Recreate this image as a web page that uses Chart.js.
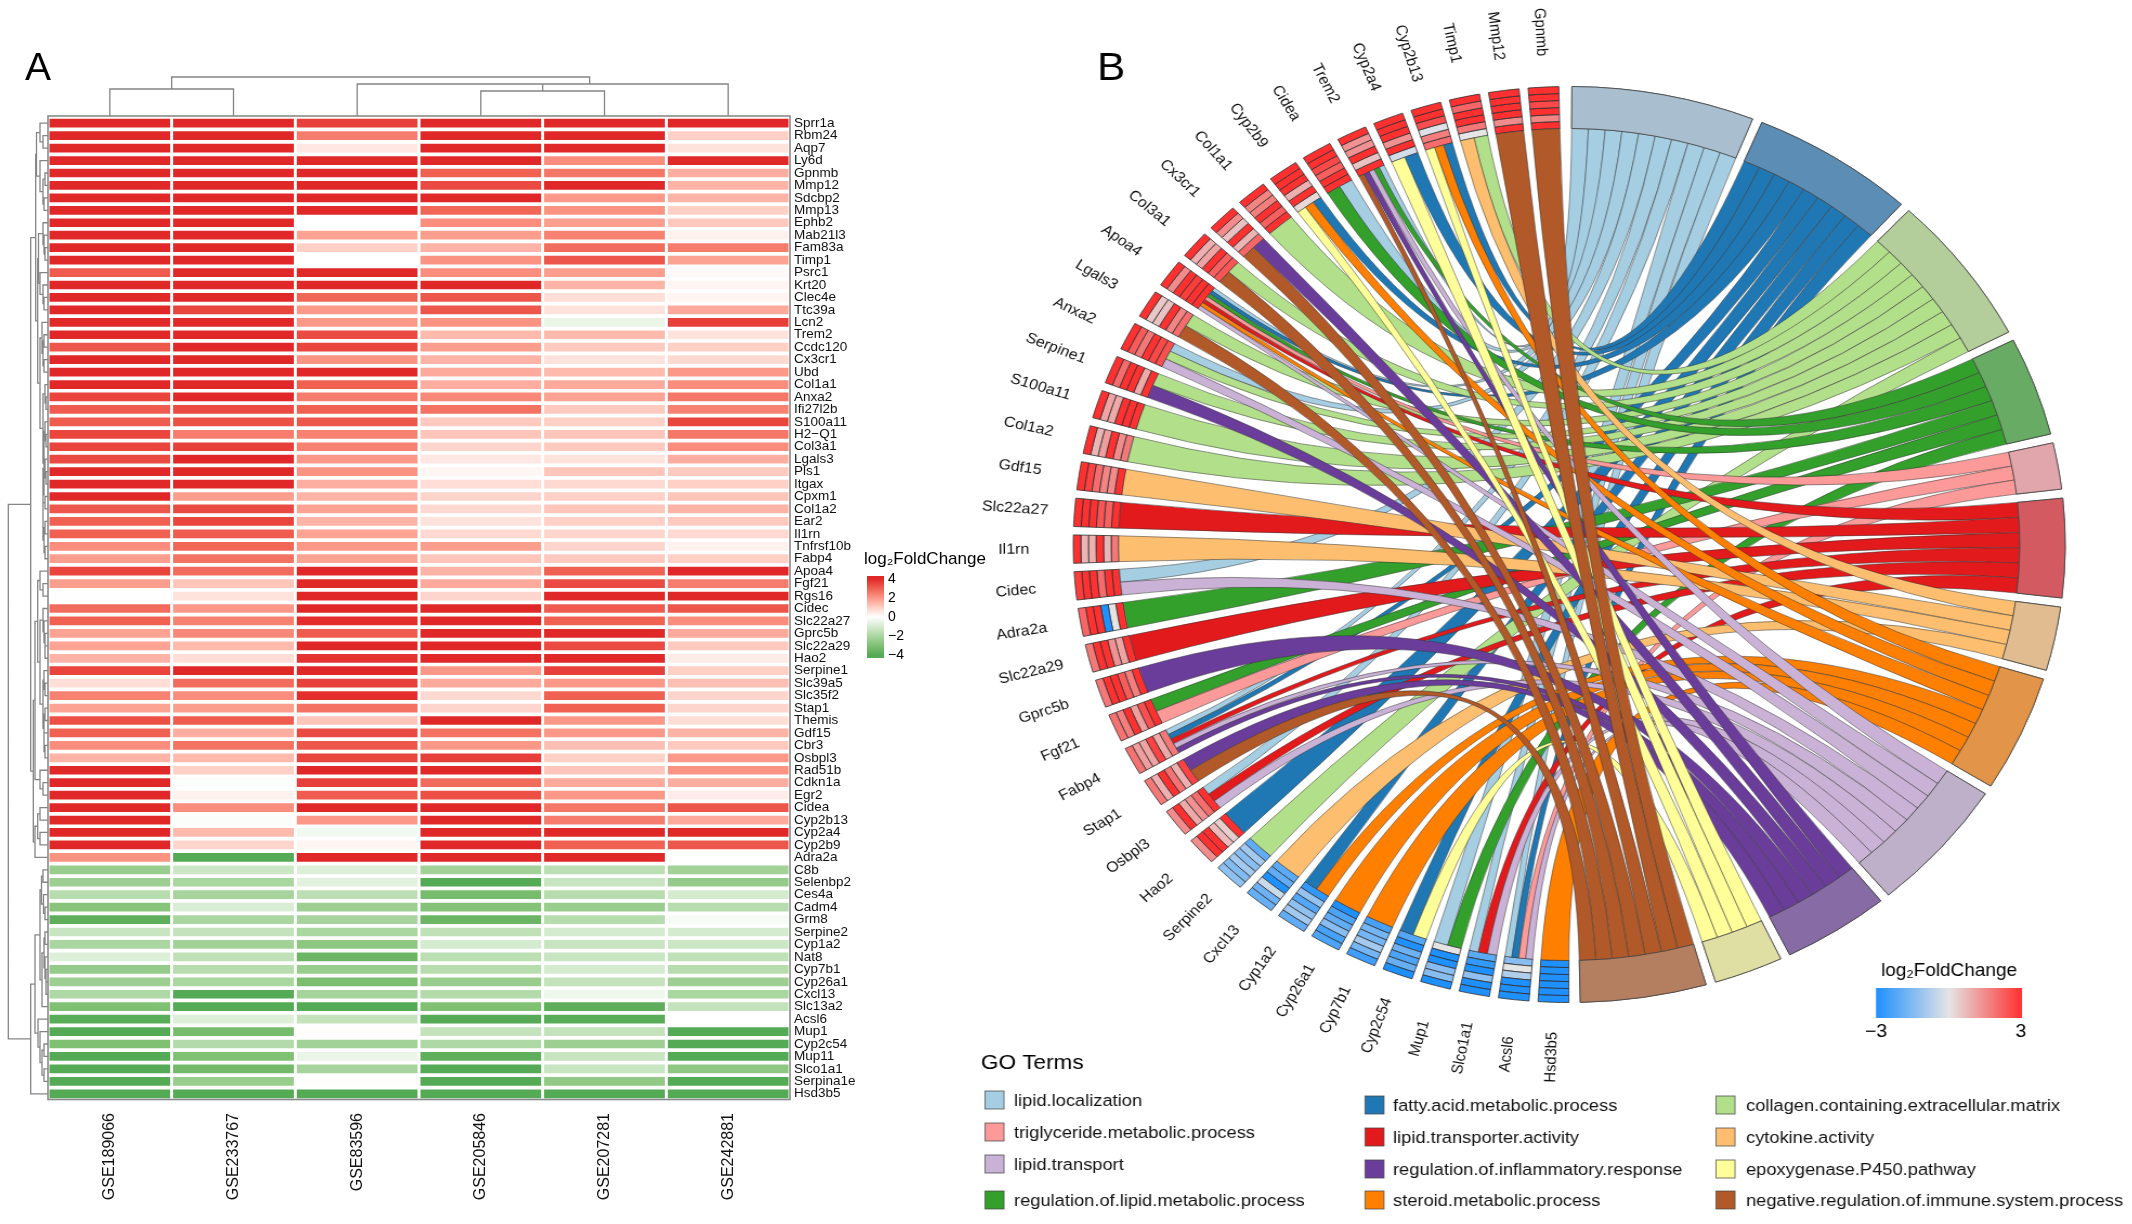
<!DOCTYPE html>
<html><head><meta charset="utf-8">
<script src="https://cdn.jsdelivr.net/npm/chart.js@4"></script>
<style>
html,body{margin:0;padding:0;background:#fff;width:2132px;height:1224px;overflow:hidden}
canvas{position:absolute;left:0;top:0}
#g,#t{transform:scaleX(1.083);transform-origin:0 0}
</style></head><body>
<canvas id="h" width="1000" height="1224"></canvas>
<canvas id="g" width="1969" height="1224"></canvas>
<canvas id="t" width="1969" height="1224"></canvas>
<script>
const datasetsGSE=['GSE189066','GSE233767','GSE83596','GSE205846','GSE207281','GSE242881'];
const heatGenes=['Sprr1a','Rbm24','Aqp7','Ly6d','Gpnmb','Mmp12','Sdcbp2','Mmp13','Ephb2','Mab21l3','Fam83a','Timp1','Psrc1','Krt20','Clec4e','Ttc39a','Lcn2','Trem2','Ccdc120','Cx3cr1','Ubd','Col1a1','Anxa2','Ifi27l2b','S100a11','H2−Q1','Col3a1','Lgals3','Pls1','Itgax','Cpxm1','Col1a2','Ear2','Il1rn','Tnfrsf10b','Fabp4','Apoa4','Fgf21','Rgs16','Cidec','Slc22a27','Gprc5b','Slc22a29','Hao2','Serpine1','Slc39a5','Slc35f2','Stap1','Themis','Gdf15','Cbr3','Osbpl3','Rad51b','Cdkn1a','Egr2','Cidea','Cyp2b13','Cyp2a4','Cyp2b9','Adra2a','C8b','Selenbp2','Ces4a','Cadm4','Grm8','Serpine2','Cyp1a2','Nat8','Cyp7b1','Cyp26a1','Cxcl13','Slc13a2','Acsl6','Mup1','Cyp2c54','Mup11','Slco1a1','Serpina1e','Hsd3b5'];
const GSE189066=[4,4,4,4,4,4,4,4,4,4,4,4,3.1,4,4,4,4,4,3.2,4,4,4,3.5,3.1,3.1,3.5,3.5,3.4,4,4,4,3.2,3,3,2.2,1.9,3.5,1.9,-.05,2.8,3,1.8,1.8,1.5,3.5,.7,2.4,1.8,3.3,3,2.2,1.5,4,4,4,4,4,4,4,2.1,-2.4,-2.3,-1.7,-2.8,-3.8,-1.3,-2,-.8,-2.5,-2.3,-1.9,-3,-3.9,-4,-3,-4,-4,-4,-4];
const GSE233767=[4,4,4,4,4,4,4,4,4,4,4,4,4,4,4,3.5,4,4,4,4,4,4,4,3.4,3.3,2.5,3.6,4,4,4,1.9,3.4,3.5,3.1,2.9,2.7,2.8,1.2,.6,2,2.4,2.3,1.4,.7,4,2.8,2.2,1.9,3.1,1.6,2.7,1.4,1,-.1,.3,2.2,-.1,1.4,.9,-4,-1.2,-2,-2.1,-.9,-2,-1.4,-2.2,-1.5,-1.7,-2,-4,-4,-.8,-3.2,-1.8,-3,-3.3,-2.4,-4];
const GSE83596=[3.6,2.5,.5,4,4,4,4,4,0,1.8,1,0,4,4,2.9,2,2,3.4,3.5,2.1,4,3,2.5,3,3.2,2.4,2.4,2,2.1,1.6,1.5,1.8,1.5,1.8,2,1.8,4,4,4,4,3.9,3.1,4,3.8,4,3.6,3.9,2.7,1.2,3.4,3.2,3.5,4,3.6,3.1,4,2,-.3,.2,4,-.8,-.7,-1.6,-2.3,-2.1,-2,-2.7,-3.5,-2.4,-3.1,-2.1,-4,-1.4,.03,-2.2,-.5,-2.1,.03,-4];
const GSE205846=[4,4,4,4,3,3.4,4,2.9,2.2,1.9,1.5,2.1,2.2,4,3.2,3.2,2.1,1.4,1.9,1.5,1.7,1.6,2.3,2.7,1.1,1.2,.9,.5,.2,.7,.9,.8,.6,.8,1.9,1.2,1.5,1.7,.9,4,4,4,4,4,2,1.7,.8,.9,4,2.7,2,3.6,4,2.8,3.3,4,4,4,4,4,-2.2,-4,-3.2,-2.9,-3.5,-1.5,-1,-1.6,-1.7,-2.4,-1.8,-3,-4,-1.4,-1.9,-3.8,-4,-4,-4];
const GSE207281=[4,4,4,2.2,2.6,4,2,2.1,1.9,2.4,2.8,3.2,1.9,1.5,.7,.6,-.5,1.4,1.1,.6,1.4,1.7,1.8,1.1,1,1.2,1.1,.6,1.2,.8,1,1.2,1,.9,.9,1.1,3,3.4,4,3.1,3,4,3.4,4,3.6,2,3,3,2,2,1.3,1,1.2,1.7,2,2.6,2.5,4,3,4,-1.6,-1.3,-1.7,-2.4,-1.7,-1,-1.3,-1.3,-1,-1.4,-.4,-3.8,-3.9,-1.4,-2.3,-1.3,-1.3,-2.6,-4];
const GSE242881=[4,1,.6,4,1.6,1.5,1.5,1,1.1,.3,2.5,1.8,.1,.2,.2,1.7,3.6,.6,1,.8,2,2.2,2.6,2.4,3.5,2.6,2.2,1.6,1.1,1,1.2,1.5,1.1,.8,.3,1,4,2.5,4,3.2,2.2,1.7,1.1,.4,1,1.3,.9,.9,.7,1.5,1.1,2,2.1,1.6,.4,3.2,1.7,4,3.2,0,-2.2,-2.5,-1,-1.7,-.2,-1,-1.2,-1.5,-1.7,-2.3,-2,-1.4,0,-4,-4,-4,-2.7,-4,-4];
const heatColumns=[GSE189066,GSE233767,GSE83596,GSE205846,GSE207281,GSE242881];
const heatLegendTicks=[4,2,0,-2,-4];

const A1=[36.5,[40,0,[43,1,2]],[40,3,[43,[45,4,5],[44,6,7]]]];
const A2=[37.7,[38.5,[43,8,[44,9,[45,10,11]]],[40,12,[43,13,[44,14,15]]]],[40,[42,16,[43,[44,17,18],[44,19,20]]],[43,[45,21,[46,22,23]],[44,[45,24,[46,25,26]],[43,[45,27,[46,28,29]],[43,[45,30,31],[44,[45,32,33],[45,34,35]]]]]]]];
const B1=[35,[37.7,[40,36,[43,37,38]],[40,[43,39,[44,40,[45,41,[45,42,43]]]],[43,[44,44,[45,45,46]],[44,[45,47,48],[44,49,[45,50,51]]]]]],[40,52,[43,53,54]]];
const B2=[35,[37.7,[40,55,56],[40,57,58]],59];
const GREEN=[30.7,[35,[40,[41.5,[43,60,61],[43.5,62,[45,63,64]]],[42,[44,[45,65,66],[45,67,[46,68,[46,69,70]]]],71]],[38,72,[40,73,[42,[44,74,75],[44,76,77]]]]],78];
const rowTree=[8.3,[30.7,[35.7,A1,A2],[33.3,B1,B2]],GREEN];
const colBrackets=[[89,0,1,116,116],[91,3,4,116,116],[84,2,5,116,116],[77,.5,3.88,89,84]];

const goTerms=['lipid.localization','fatty.acid.metabolic.process','collagen.containing.extracellular.matrix','regulation.of.lipid.metabolic.process','triglyceride.metabolic.process','lipid.transporter.activity','cytokine.activity','steroid.metabolic.process','lipid.transport','regulation.of.inflammatory.response','epoxygenase.P450.pathway','negative.regulation.of.immune.system.process'];
const termColors=['#A6CEE3','#1F78B4','#B2DF8A','#33A02C','#FB9A99','#E31A1C','#FDBF6F','#FF7F00','#CAB2D6','#6A3D9A','#FFFF99','#B15928'];
const termRingColors=['#A9BFCF','#5C8DB4','#B3CE9B','#68AB64','#E0A6AB','#D25A60','#E0BC90','#E29448','#BDB0C8','#876BA5','#DFDFA4','#B47F60'];
const chordGenes=['Hsd3b5','Acsl6','Slco1a1','Mup1','Cyp2c54','Cyp7b1','Cyp26a1','Cyp1a2','Cxcl13','Serpine2','Hao2','Osbpl3','Stap1','Fabp4','Fgf21','Gprc5b','Slc22a29','Adra2a','Cidec','Il1rn','Slc22a27','Gdf15','Col1a2','S100a11','Serpine1','Anxa2','Lgals3','Apoa4','Col3a1','Cx3cr1','Col1a1','Cyp2b9','Cidea','Trem2','Cyp2a4','Cyp2b13','Timp1','Mmp12','Gpnmb'];
const geneTerms=[[7],[8,4,1,0],[8,5,0],[3,0],[10,1],[7],[7],[7,1],[6],[2],[1],[8,5,0],[11,9],[8,9,5,1,0],[4,3],[9],[5],[3],[8,0],[6],[5],[6],[2],[2],[9,2],[8,2,0],[11,2],[8,7,5,4,3,1,0],[11,2],[11,9],[2],[10,7,1],[3,0],[11,9,8,3,0],[10,1],[10,7,1],[6,2],[11],[11]];
const ringOrder=[0,3,4,1,5,2];

const F='"Liberation Sans", Arial, sans-serif';
const redStops=[[255,255,255],[254,208,198],[252,152,136],[240,97,82],[225,40,40]];
const greenStops=[[255,255,255],[213,235,208],[170,214,160],[128,192,115],[85,170,85]];
function heatColor(v){
  const a=Math.min(4,Math.abs(v)),s=v>=0?redStops:greenStops,i=Math.min(3,Math.floor(a)),f=a-i;
  const c=[0,1,2].map(k=>Math.round(s[i][k]+(s[i+1][k]-s[i][k])*f));
  return `rgb(${c})`;
}
function fcColor(v){
  const a=Math.max(-3,Math.min(3,v))/3,m=[229,229,229],e=a<0?[30,144,255]:[255,48,48],f=Math.abs(a);
  return `rgb(${m.map((x,k)=>Math.round(x+(e[k]-x)*f))})`;
}
const base={responsive:false,animation:false,events:[]};

/* ---------- A: heat map ---------- */
const heatPlugin={id:'heatExtras',
  afterDraw(c){
    const x=c.ctx,s=c.chartArea,ys=c.scales.y,xs=c.scales.x;
    x.save();
    x.strokeStyle='#8a8a8a';x.lineWidth=1.6;x.strokeRect(s.left,116,s.right-s.left,983.5);
    x.lineWidth=1.3;x.strokeStyle='#858585';
    x.beginPath();
    const walk=n=>{
      if(typeof n==='number')return{x:s.left,y:ys.getPixelForValue(n+.5)};
      const a=walk(n[1]),b=walk(n[2]);
      x.moveTo(a.x,a.y);x.lineTo(n[0],a.y);x.lineTo(n[0],b.y);x.lineTo(b.x,b.y);
      return{x:n[0],y:(a.y+b.y)/2};
    };
    walk(rowTree);
    const colX=v=>{const f=Math.floor(v),p0=xs.getPixelForValue(f),p1=xs.getPixelForValue(Math.min(5,f+1));return p0+(p1-p0)*(v-f);};
    colBrackets.forEach(b=>{x.moveTo(colX(b[1]),b[3]);x.lineTo(colX(b[1]),b[0]);x.lineTo(colX(b[2]),b[0]);x.lineTo(colX(b[2]),b[4]);});
    x.moveTo(colX(3.5),84);x.lineTo(colX(3.5),91);
    x.stroke();
    x.fillStyle='#000';x.textBaseline='alphabetic';x.textAlign='left';
    x.font='39px '+F;x.fillText('A',25,80);
    x.font='17px '+F;x.fillText('log₂FoldChange',864,564);
    const top=576,bot=658,gr=x.createLinearGradient(0,top,0,bot);
    for(let v=4;v>=-4;v-=.5){gr.addColorStop(Math.min(1,Math.max(0,(579+(4-v)*9.5-top)/(bot-top))),heatColor(v));}
    x.fillStyle=gr;x.fillRect(867,top,17,bot-top);
    x.fillStyle='#000';x.font='14px '+F;x.textBaseline='middle';
    heatLegendTicks.forEach(v=>x.fillText(String(v).replace('-','−'),888,579+(4-v)*9.5));
    x.restore();
  }};
new Chart(document.getElementById('h'),{type:'bar',
  data:{labels:datasetsGSE,datasets:heatGenes.map((g,i)=>({label:g,
    data:heatColumns.map(()=>[i+.15,i+.85]),
    backgroundColor:heatColumns.map(col=>heatColor(col[i]))}))},
  options:{...base,layout:{padding:{left:48,top:117,right:0,bottom:0}},
    datasets:{bar:{grouped:false,barPercentage:.976,categoryPercentage:1,borderWidth:0}},
    plugins:{legend:{display:false},tooltip:{enabled:false}},
    scales:{
      x:{position:'bottom',grid:{display:false,drawTicks:false},border:{display:false},
        afterFit(a){a.height=124},
        ticks:{minRotation:90,maxRotation:90,padding:13,color:'#111',font:{family:F,size:16}}},
      y:{position:'right',reverse:true,min:0,max:79,grid:{display:false,drawTicks:false},border:{display:false},
        afterFit(a){a.width=210},
        afterBuildTicks(a){a.ticks=heatGenes.map((_,i)=>({value:i+.5}))},
        ticks:{autoSkip:false,padding:4,color:'#111',font:{family:F,size:13.5},callback:v=>heatGenes[Math.round(v-.5)]}}
    }},plugins:[heatPlugin]});

/* ---------- B: chord ---------- */
const STRETCH=1.083,X=v=>v/STRETCH;
const termCounts=goTerms.map((_,t)=>geneTerms.filter(l=>l.includes(t)).length);
const termGap=1.15,geneDeg=3.56,geneGap=1.05;
const chordOpts={...base,radius:458,cutout:'90.83%',layout:{padding:{left:929,bottom:135}},plugins:{legend:{display:false},tooltip:{enabled:false}}};

const geneSlices=[];chordGenes.forEach((g,i)=>{geneSlices.push(geneDeg);if(i<chordGenes.length-1)geneSlices.push(geneGap);});
geneSlices.push(360-geneSlices.reduce((a,b)=>a+b,0));
const geneChart=new Chart(document.getElementById('g'),{type:'doughnut',
  data:{labels:geneSlices.map((_,i)=>i%2?'':(chordGenes[i/2]||'')),
    datasets:ringOrder.map(col=>({label:datasetsGSE[col],data:geneSlices,
      backgroundColor:geneSlices.map((_,i)=>{
        if(i%2)return'rgba(0,0,0,0)';
        const r=heatGenes.indexOf(chordGenes[i/2]);
        return fcColor(heatColumns[col][r]);}),
      borderColor:geneSlices.map((_,i)=>i%2?'rgba(0,0,0,0)':'#2f2f2f'),
      borderWidth:geneSlices.map((_,i)=>i%2?0:.8)}))},
  options:{...chordOpts,rotation:180.05}});

const termSlices=[];termCounts.forEach((n,i)=>{termSlices.push(2.22*n-.8);if(i<goTerms.length-1)termSlices.push(termGap);});
termSlices.push(360-termSlices.reduce((a,b)=>a+b,0));

const chordPlugin={id:'ribbons',
  afterDraw(c){
    const x=c.ctx,arcs=c.getDatasetMeta(0).data,gArcs=geneChart.getDatasetMeta(5).data;
    const cx=arcs[0].x,cy=arcs[0].y,r=arcs[0].innerRadius;
    x.save();
    const geneSub=chordGenes.map((_,g)=>{
      const a=gArcs[2*g],n=geneTerms[g].length,w=(a.endAngle-a.startAngle)/n,o={};
      geneTerms[g].slice().sort((p,q)=>q-p).forEach((t,k)=>{o[t]=[a.startAngle+k*w,a.startAngle+(k+1)*w];});
      return o;});
    goTerms.forEach((_,t)=>{
      const a=arcs[2*t],members=chordGenes.map((_,g)=>g).filter(g=>geneTerms[g].includes(t)).reverse();
      const w=(a.endAngle-a.startAngle)/members.length;
      members.forEach((g,k)=>{
        const b0=a.startAngle+k*w,b1=b0+w,[g0,g1]=geneSub[g][t];
        x.beginPath();
        x.arc(cx,cy,r,b0,b1);
        x.quadraticCurveTo(cx,cy,cx+r*Math.cos(g0),cy+r*Math.sin(g0));
        x.arc(cx,cy,r,g0,g1);
        x.quadraticCurveTo(cx,cy,cx+r*Math.cos(b0),cy+r*Math.sin(b0));
        x.closePath();
        x.fillStyle=termColors[t];x.fill();
        x.strokeStyle='rgba(55,55,55,.65)';x.lineWidth=.8;x.stroke();
      });
    });
    arcs.forEach((a,i)=>{if(i%2===0&&i/2<goTerms.length)a.draw(x);});
    x.fillStyle='#111';x.font='14.7px '+F;x.textAlign='center';x.textBaseline='middle';
    chordGenes.forEach((g,i)=>{
      const a=gArcs[2*i],m=(a.startAngle+a.endAngle)/2,R=513;
      x.save();
      x.translate(cx+R*Math.cos(m),cy+R*Math.sin(m));
      x.rotate(m-Math.PI);
      x.fillText(g,0,0);
      x.restore();
    });
    x.textAlign='left';x.textBaseline='alphabetic';
    x.font='39px '+F;x.fillStyle='#000';x.fillText('B',X(1097),80);
    x.font='20.8px '+F;x.fillText('GO Terms',X(981),1069);
    const cols=[{sw:985,tx:1014,ys:[1100,1132,1164,1200],items:[0,4,8,3]},
                {sw:1365,tx:1393,ys:[1105,1137,1169,1200],items:[1,5,9,7]},
                {sw:1716,tx:1746,ys:[1105,1137,1169,1200],items:[2,6,10,11]}];
    x.font='16.9px '+F;x.textBaseline='middle';
    cols.forEach(col=>col.items.forEach((t,k)=>{
      const y=col.ys[k];
      x.fillStyle=termColors[t];x.fillRect(X(col.sw),y-9,X(19),18);
      x.strokeStyle='rgba(70,70,70,.75)';x.lineWidth=1;x.strokeRect(X(col.sw),y-9,X(19),18);
      x.fillStyle='#111';x.fillText(goTerms[t],X(col.tx),y+1);
    }));
    x.textAlign='center';x.font='17.5px '+F;x.fillStyle='#000';
    x.fillText('log₂FoldChange',X(1949),971);
    const gr=x.createLinearGradient(X(1876),0,X(2022),0);
    gr.addColorStop(0,fcColor(-3));gr.addColorStop(.5,fcColor(0));gr.addColorStop(1,fcColor(3));
    x.fillStyle=gr;x.fillRect(X(1876),988,X(146),30);
    x.fillStyle='#000';x.font='18px '+F;
    x.fillText('−3',X(1876),1032);x.fillText('3',X(2021),1032);
    x.restore();
  }};
new Chart(document.getElementById('t'),{type:'doughnut',
  data:{labels:termSlices.map((_,i)=>i%2?'':(goTerms[i/2]||'')),
    datasets:[{label:'GO Terms',data:termSlices,
      backgroundColor:termSlices.map((_,i)=>i%2?'rgba(0,0,0,0)':termRingColors[i/2]),
      borderColor:termSlices.map((_,i)=>i%2?'rgba(0,0,0,0)':'#444'),
      borderWidth:termSlices.map((_,i)=>i%2?0:.8)}]},
  options:{...chordOpts,rotation:.3},plugins:[chordPlugin]});
</script></body></html>
